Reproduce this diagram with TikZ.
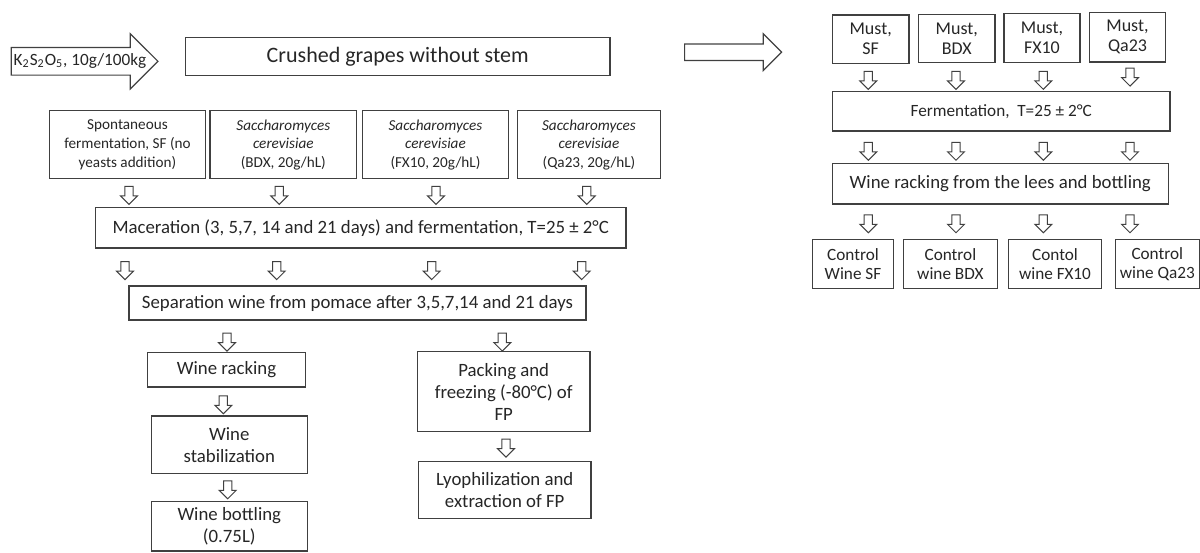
\documentclass[tikz,border=0pt]{standalone}
\usepackage{fontspec}
\setmainfont{Carlito}
\usetikzlibrary{shapes.arrows}
\definecolor{linegray}{HTML}{404040}
\definecolor{textgray}{HTML}{262626}
\tikzstyle{stage} = [rectangle, draw=linegray, line width=0.6pt, text=textgray, align=center, inner sep=1pt, font=\fontsize{9.4}{11}\selectfont]
\tikzstyle{seed} = [stage, font=\fontsize{7.6}{9.3}\selectfont]
\tikzstyle{control} = [stage, font=\fontsize{8.6}{9.5}\selectfont]
\tikzstyle{down} = [single arrow, draw=linegray, line width=0.5pt, rotate=-90, minimum width=8pt, minimum height=9pt, single arrow head extend=2.2pt, inner xsep=0pt, inner ysep=1.8pt]
\tikzstyle{bigarrow} = [single arrow, draw=linegray, line width=0.6pt, inner xsep=0pt, anchor=tail]

\begin{document}
\begin{tikzpicture}[x=0.5pt, y=-0.5pt]
\useasboundingbox (0,0) rectangle (1200,552);

% left column: maceration trial
\node (metab) [bigarrow, minimum height=73.3pt, minimum width=27pt, inner ysep=6.6pt, single arrow head extend=6.9pt] at (10.7,61.3) {};
\node (metabtext) [text=textgray, font=\fontsize{8.6}{10}\selectfont, inner sep=0pt] at (80,61.3) {K\textsubscript{2}S\textsubscript{2}O\textsubscript{5}, 10g/100kg};
\node (crushed) [stage, minimum width=212.3pt, minimum height=18.8pt, font=\fontsize{11}{13}\selectfont] at (397.7,56.5) {Crushed grapes without stem};

\node (sf) [seed, minimum width=78.2pt, minimum height=34pt] at (127.5,144.7) {Spontaneous\\fermentation, SF (no\\yeasts addition)};
\node (bdx) [seed, minimum width=73.3pt, minimum height=34pt] at (283.3,144.7) {\textit{Saccharomyces}\\\textit{cerevisiae}\\(BDX, 20g/hL)};
\node (fx) [seed, minimum width=73.2pt, minimum height=34pt] at (435.5,144.7) {\textit{Saccharomyces}\\\textit{cerevisiae}\\(FX10, 20g/hL)};
\node (qa) [seed, minimum width=71.3pt, minimum height=34pt] at (589,144.7) {\textit{Saccharomyces}\\\textit{cerevisiae}\\(Qa23, 20g/hL)};

\node (mac) [stage, minimum width=265.3pt, minimum height=20.3pt] at (360.7,227.7) {Maceration (3, 5,7, 14 and 21 days) and fermentation, T=25 ± 2°C};
\node (sep) [stage, minimum width=228.5pt, minimum height=17pt] at (357.5,303) {Separation wine from pomace after 3,5,7,14 and 21 days};

\node (rack) [stage, minimum width=78.8pt, minimum height=17.2pt] at (226.5,369.8) {Wine racking};
\node (stab) [stage, minimum width=78pt, minimum height=28.8pt] at (229.3,444.8) {Wine\\stabilization};
\node (bott) [stage, minimum width=78pt, minimum height=24.7pt] at (229.3,526.3) {Wine bottling\\(0.75L)};
\node (pack) [stage, minimum width=86.3pt, minimum height=39.8pt] at (503.7,391.5) {Packing and\\freezing (-80°C) of\\FP};
\node (lyo) [stage, minimum width=86.3pt, minimum height=28.3pt] at (504.7,490) {Lyophilization and\\extraction of FP};

% block arrows, left column
\foreach \x [count=\i] in {129,279.3,436,586.7}
  \node (da\i) [down] at (\x,193.3) {};
\foreach \x [count=\i] in {125,276.7,431.7,581.7}
  \node (db\i) [down] at (\x,268.5) {};
\node (dc1) [down] at (227,340) {};
\node (dc2) [down] at (502.3,340) {};
\node (dd1) [down] at (223.3,402.7) {};
\node (dd2) [down] at (227.7,487.7) {};
\node (dd3) [down] at (506,446) {};

% right column: control wines
\node (tocontrol) [bigarrow, minimum height=48.5pt, minimum width=17.9pt, inner ysep=3.8pt, single arrow head extend=5.1pt] at (684,52.2) {};

\node (must1) [stage, minimum width=38.3pt, minimum height=24.2pt, font=\fontsize{9}{10}\selectfont] at (870.7,39.2) {Must,\\SF};
\node (must2) [stage, minimum width=38.2pt, minimum height=24pt, font=\fontsize{9}{10}\selectfont] at (956.8,38.3) {Must,\\BDX};
\node (must3) [stage, minimum width=38pt, minimum height=24.5pt, font=\fontsize{9}{10}\selectfont] at (1042,37.8) {Must,\\FX10};
\node (must4) [stage, minimum width=38.2pt, minimum height=24.7pt, font=\fontsize{9}{10}\selectfont] at (1127.5,37.3) {Must,\\Qa23};

\node (ferm) [stage, minimum width=168.8pt, minimum height=19.7pt, font=\fontsize{8.6}{10}\selectfont] at (1001.2,111.3) {Fermentation,\ \ T=25 ± 2°C};
\node (lees) [stage, minimum width=168pt, minimum height=20.3pt] at (1000.3,183.7) {Wine racking from the lees and bottling};

\node (ctl1) [control, minimum width=40.3pt, minimum height=24.7pt] at (853,264) {Control\\Wine SF};
\node (ctl2) [control, minimum width=47.1pt, minimum height=24.7pt] at (950.4,264) {Control\\wine BDX};
\node (ctl3) [control, minimum width=46.7pt, minimum height=24.7pt] at (1055,264) {Contol\\wine FX10};
\node (ctl4) [control, minimum width=41.8pt, minimum height=24.7pt] at (1157.3,264) {Control\\wine Qa23};

% block arrows, right column
\foreach \x/\y [count=\i] in {868.3/78.3,956/78.3,1043.3/78.3,1130/75}
  \node (dm\i) [down] at (\x,\y) {};
\foreach \x [count=\i] in {868.3,956,1043.3,1130}
  \node (df\i) [down] at (\x,149.2) {};
\foreach \x [count=\i] in {868.3,956,1043.3,1130}
  \node (dl\i) [down] at (\x,221.7) {};
\end{tikzpicture}
\end{document}
